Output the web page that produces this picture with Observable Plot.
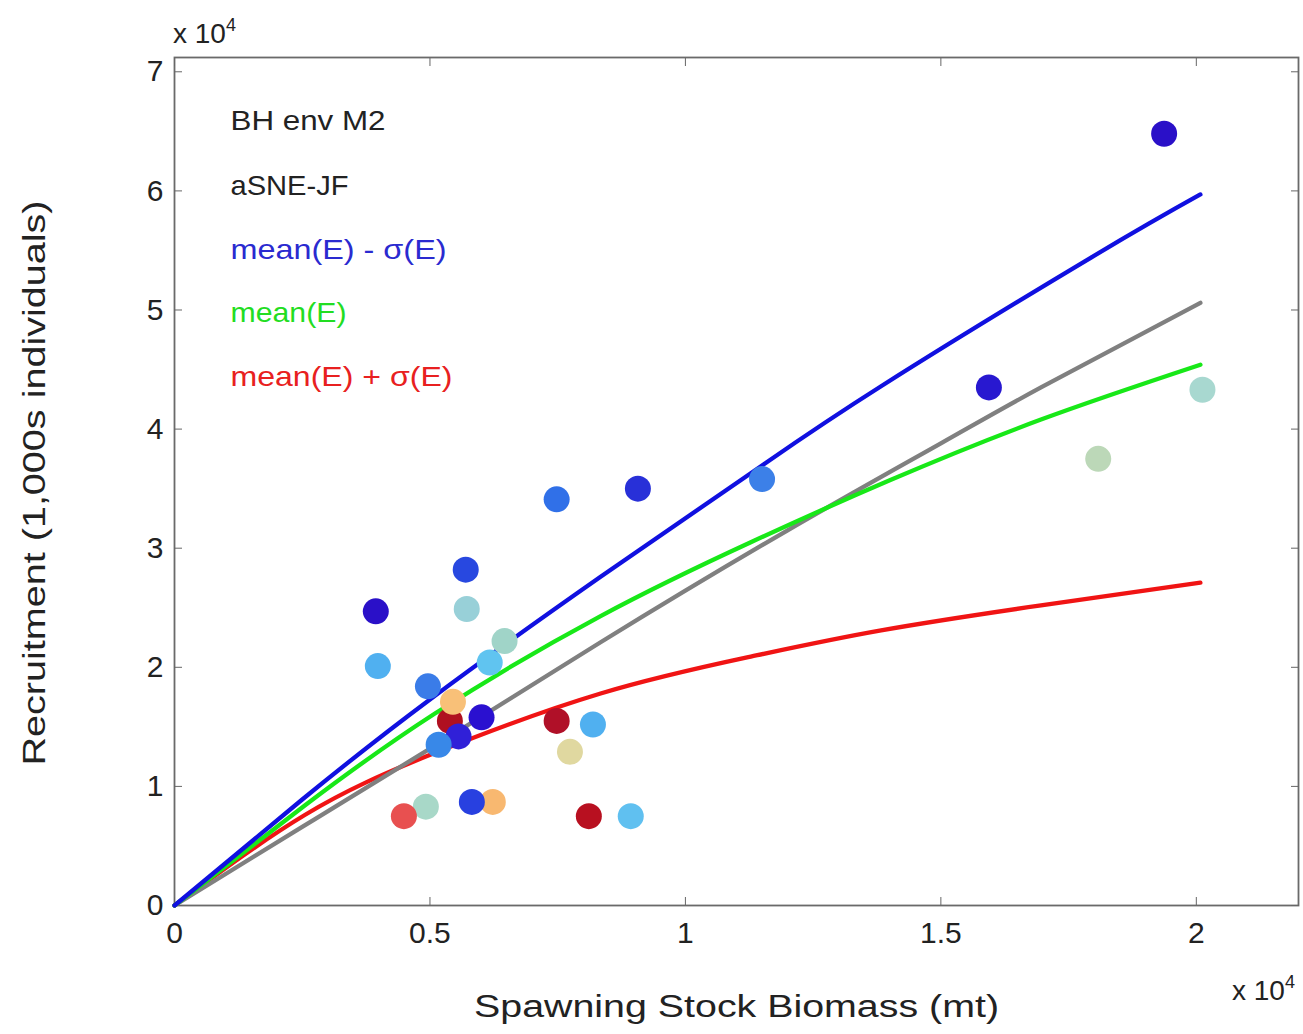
<!DOCTYPE html>
<html>
<head>
<meta charset="utf-8">
<script src="https://cdn.jsdelivr.net/npm/d3@7"></script>
<script src="https://cdn.jsdelivr.net/npm/@observablehq/plot@0.6"></script>
<style>
  body { margin: 0; background: #fff; }
  #chart { position: relative; width: 1303px; height: 1034px; }
</style>
</head>
<body>
<div id="chart"></div>
<script>
// ---- data (x and y in units of 10^4) ----
const ssb = [1.937, 1.594, 2.012, 1.808, 1.150, 0.907, 0.748, 0.570, 0.394, 0.572, 0.646, 0.398, 0.617, 0.496,
             0.539, 0.545, 0.601, 0.556, 0.517, 0.748, 0.819, 0.774, 0.492, 0.449, 0.623, 0.582, 0.811, 0.893];
const recruits = [6.48, 4.35, 4.33, 3.75, 3.58, 3.50, 3.41, 2.82, 2.47, 2.49, 2.22, 2.01, 2.04, 1.84,
                  1.55, 1.71, 1.58, 1.42, 1.35, 1.55, 1.52, 1.29, 0.83, 0.75, 0.87, 0.87, 0.75, 0.75];
const pointColors = ["#2a10c8", "#2818d0", "#a8d8d0", "#bcd8b8", "#3c80e8", "#2830d8", "#3070e8", "#2848e0",
                     "#2a10c8", "#98d0d8", "#a0d4c8", "#50b0f0", "#60c4f0", "#3a7ce8", "#b01020", "#f8c078",
                     "#2a10d0", "#3020d8", "#3888e8", "#b01028", "#50b0f0", "#e0d8a0", "#a8d8c8", "#e85050",
                     "#f8b870", "#2840e0", "#b81020", "#60c0f0"];

const curveMinusX = [0, 0.25, 0.5, 0.834, 1.128, 1.383, 1.794, 2.008];
const curveMinusY = [0, 0.89, 1.73, 2.76, 3.63, 4.36, 5.44, 5.97];
const curveMeanX = [0, 0.255, 0.509, 0.834, 1.128, 1.4, 1.696, 2.008];
const curveMeanY = [0, 0.84, 1.61, 2.43, 3.05, 3.57, 4.08, 4.54];
const curveGrayX = [0, 0.25, 0.509, 0.834, 1.2, 1.5, 1.696, 2.008];
const curveGrayY = [0, 0.66, 1.34, 2.21, 3.15, 3.88, 4.35, 5.06];
const curvePlusX = [0, 0.255, 0.509, 0.834, 1.128, 1.383, 1.696, 2.008];
const curvePlusY = [0, 0.76, 1.28, 1.78, 2.09, 2.31, 2.52, 2.71];

const xTicks = [0, 0.5, 1, 1.5, 2];
const yTicks = [0, 1, 2, 3, 4, 5, 6, 7];
const legendLabels = ["BH env M2", "aSNE-JF", "mean(E) - σ(E)", "mean(E)", "mean(E) + σ(E)"];
const legendColors = ["#222222", "#222222", "#2a2ad0", "#22dd22", "#e82020"];
const legendWidths = [155, 118, 216, 116, 222];
const legendOffsets = [64, 129, 193, 256, 320];
const yTitle = "Recruitment (1,000s individuals)";
const xTitle = "Spawning Stock Biomass (mt)";

// ---- build tables ----
const points = ssb.map((x, i) => ({x, y: recruits[i], c: pointColors[i]}));
const mk = (xs, ys) => xs.map((x, i) => ({x, y: ys[i]}));
const lines = [
  {data: mk(curvePlusX, curvePlusY), stroke: "#f01414"},
  {data: mk(curveGrayX, curveGrayY), stroke: "#808080"},
  {data: mk(curveMeanX, curveMeanY), stroke: "#18e818"},
  {data: mk(curveMinusX, curveMinusY), stroke: "#1010e0"}
];
const font = "'Liberation Sans', Arial, sans-serif";

const plot = Plot.plot({
  width: 1303,
  height: 1034,
  marginLeft: 174,
  marginRight: 5,
  marginTop: 57,
  marginBottom: 129,
  style: {fontFamily: font, fontSize: "30px", color: "#222", background: "#fff"},
  x: {domain: [0, 2.2]},
  y: {domain: [0, 7.12]},
  marks: [
    Plot.frame({stroke: "#6a6a6a", strokeWidth: 1.8}),
    Plot.axisX({ticks: xTicks, tickSize: 0, tickPadding: 16, tickFormat: d => `${d}`, fontSize: 30, label: null}),
    Plot.axisX({ticks: xTicks, anchor: "bottom", tickSize: -8, tickFormat: () => "", label: null, stroke: "#666"}),
    Plot.axisX({ticks: xTicks, anchor: "top", tickSize: -8, tickFormat: () => "", label: null, stroke: "#666"}),
    Plot.axisY({ticks: yTicks, tickSize: 0, tickPadding: 11, tickFormat: d => `${d}`, fontSize: 30, label: null}),
    Plot.axisY({ticks: yTicks, anchor: "left", tickSize: -8, tickFormat: () => "", label: null, stroke: "#666"}),
    Plot.axisY({ticks: yTicks, anchor: "right", tickSize: -8, tickFormat: () => "", label: null, stroke: "#666"}),
    ...lines.map(l => Plot.line(l.data, {x: "x", y: "y", stroke: l.stroke, strokeWidth: 4.3, curve: "natural", strokeLinecap: "round"})),
    Plot.dot(points, {x: "x", y: "y", r: 13, fill: "c", stroke: "none"}),
    ...legendLabels.map((t, i) => Plot.text([t], {frameAnchor: "top-left", dx: 56, dy: legendOffsets[i], lineAnchor: "middle", fill: legendColors[i], fontSize: 28, textAnchor: "start"})),
    Plot.text([yTitle], {frameAnchor: "bottom-left", dx: -139, dy: -140, rotate: -90, textAnchor: "start", lineAnchor: "middle", fontSize: 31, fill: "#222"}),
    Plot.text([xTitle], {frameAnchor: "bottom", dy: 111, fontSize: 31, fill: "#222"})
  ]
});
plot.style.position = "absolute";
plot.style.left = "0";
plot.style.top = "0";
document.getElementById("chart").appendChild(plot);

// stretch text to the reference widths
const svg = d3.select(plot);
const widths = new Map(legendLabels.map((t, i) => [t, legendWidths[i]]));
widths.set(yTitle, 565);
widths.set(xTitle, 525);
svg.selectAll("text").each(function () {
  const w = widths.get(this.textContent);
  if (w) d3.select(this).attr("textLength", w).attr("lengthAdjust", "spacingAndGlyphs");
});

// multiplier labels
function mult(x, y) {
  const t = svg.append("text").attr("x", x).attr("y", y).attr("text-anchor", "start")
    .attr("font-family", font).attr("font-size", 28).attr("fill", "#222");
  t.append("tspan").text("x 10");
  t.append("tspan").attr("font-size", 18).attr("dy", -12).text("4");
}
mult(173, 43);
mult(1232, 1000);
</script>
</body>
</html>
